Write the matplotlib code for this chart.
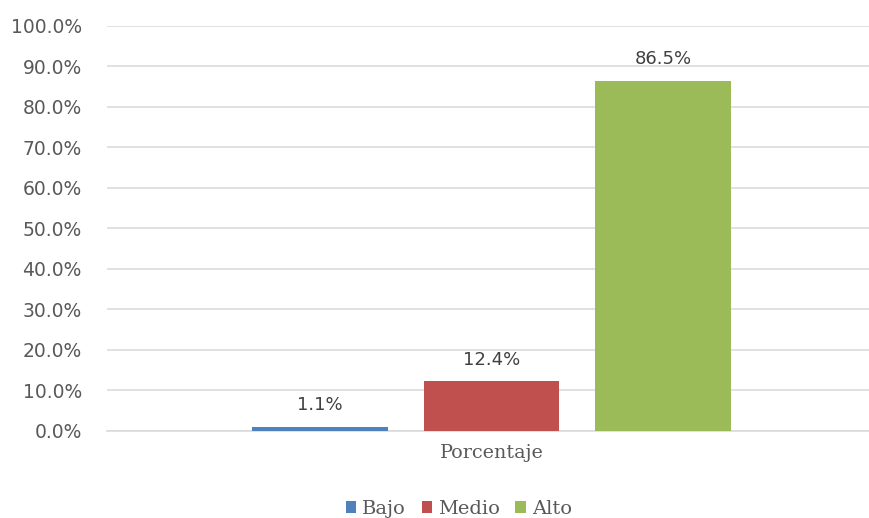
import numpy as np
import matplotlib
matplotlib.use("Agg")
import matplotlib.pyplot as plt
from matplotlib.ticker import FuncFormatter

niveles = ["Bajo", "Medio", "Alto"]
porcentajes = [1.1, 12.4, 86.5]
colores = ["#4F81BD", "#C0504D", "#9BBB59"]
categoria = "Porcentaje"
yticks = np.arange(0, 101, 10)

gris = "#595959"

fig = plt.figure(figsize=(8.69, 5.18), dpi=100)
ax = fig.add_axes([0.123, 0.168, 0.877, 0.782])

x = np.arange(len(niveles))
bars = ax.bar(x, porcentajes, width=0.79, color=colores, label=niveles, zorder=3)

# etiquetas de datos sobre cada barra
for xi, v in zip(x, porcentajes):
    ax.text(xi, v + 3, f"{v:.1f}%", ha="center", va="bottom",
            fontsize=13, color="#404040", family="DejaVu Sans")

ax.set_ylim(0, 100)
ax.set_xlim(-1.24, 3.2)
ax.set_yticks(yticks)
ax.yaxis.set_major_formatter(FuncFormatter(lambda v, p: f"{v:.1f}%"))
ax.set_xticks([])
ax.tick_params(axis="y", length=0, pad=18, labelsize=13.5, labelcolor=gris)
for lab in ax.get_yticklabels():
    lab.set_family("DejaVu Sans")

ax.grid(axis="y", color="#D9D9D9", linewidth=1.1, zorder=0)
for s in ["top", "right", "left"]:
    ax.spines[s].set_visible(False)
ax.spines["bottom"].set_color("#D9D9D9")
ax.spines["bottom"].set_linewidth(1.1)

ax.text(1, -5.5, categoria, ha="center", va="center", fontsize=13.8,
        color=gris, family="DejaVu Serif", transform=ax.transData, clip_on=False)

leg = fig.legend(handles=bars, labels=niveles, loc="center", ncol=3,
                 bbox_to_anchor=(0.528, 0.018), frameon=False,
                 handlelength=0.55, handleheight=0.55, handletextpad=0.3,
                 columnspacing=0.8, prop={"family": "DejaVu Serif", "size": 14})
for t in leg.get_texts():
    t.set_color(gris)

fig.savefig("out.png", dpi=100)
